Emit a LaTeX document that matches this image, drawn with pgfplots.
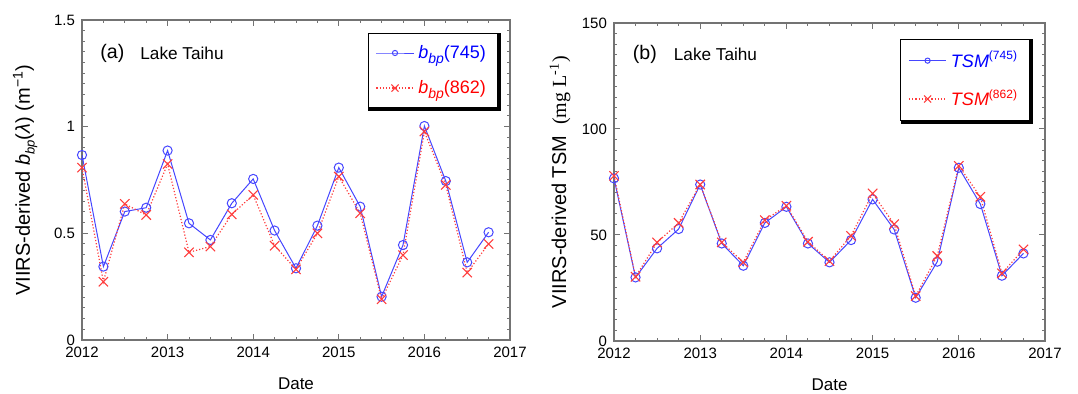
\documentclass[border=0pt]{standalone}
\usepackage{fontspec}
\setmainfont{Liberation Sans}
\newfontfamily\serif{Liberation Serif}
\usepackage{pgfplots}
\usepackage{pgfplotstable}
\pgfplotsset{compat=1.18}
\definecolor{lblue}{RGB}{70,70,255}
\definecolor{lred}{RGB}{255,60,60}

\pgfplotstableread{
x       a      b
2012.00 0.867 0.808
2012.25 0.344 0.273
2012.50 0.602 0.638
2012.75 0.620 0.586
2013.00 0.888 0.825
2013.25 0.547 0.411
2013.50 0.469 0.438
2013.75 0.641 0.589
2014.00 0.755 0.680
2014.25 0.513 0.442
2014.50 0.336 0.331
2014.75 0.536 0.500
2015.00 0.808 0.766
2015.25 0.625 0.594
2015.50 0.203 0.191
2015.75 0.445 0.398
2016.00 1.003 0.977
2016.25 0.745 0.727
2016.50 0.364 0.316
2016.75 0.505 0.450
}\bbp

\pgfplotstableread{
x       a     b
2012.00 76.7 77.9
2012.25 30.0 30.3
2012.50 43.7 46.5
2012.75 52.8 55.7
2013.00 73.8 73.8
2013.25 46.0 46.5
2013.50 35.5 37.1
2013.75 55.7 57.0
2014.00 63.3 63.8
2014.25 46.0 46.8
2014.50 37.1 37.7
2014.75 47.6 49.6
2015.00 66.8 69.6
2015.25 52.6 55.1
2015.50 20.4 21.2
2015.75 37.4 40.1
2016.00 81.7 82.6
2016.25 64.6 68.0
2016.50 30.8 31.9
2016.75 41.3 43.2
}\tsm

\pgfplotsset{
  mystyle/.style={
    scale only axis,
    xmin=2012, xmax=2017,
    xtick={2012,2013,2014,2015,2016,2017},
    minor x tick num=3,
    minor y tick num=9,
    tick align=inside,
    major tick length=3pt,
    minor tick length=1.6pt,
    axis line style={black!55, line width=0.6pt},
    every tick/.append style={black!55, line width=0.5pt},
    tick label style={font=\fontsize{7.5}{9}\selectfont},
    /pgf/number format/assume math mode=true,
    x tick label style={/pgf/number format/1000 sep={}},
    xlabel={Date},
    xlabel style={font=\fontsize{8.5}{10}\selectfont, at={(axis description cs:0.5,-0.138)}, anchor=center},
    ylabel style={font=\fontsize{8.5}{10}\selectfont},
    legend cell align=left,
    legend style={font=\fontsize{9}{11}\selectfont, draw=black, fill=white,
      at={(1,1)}, anchor=north east, row sep=5.5pt, inner sep=3.8pt},
    legend image code/.code={\draw[mark repeat=2,mark phase=2,##1] plot coordinates {(0pt,0pt)(9.3pt,0pt)(18.7pt,0pt)};},
  },
  bline/.style={lblue, line width=0.5pt, mark=o, mark size=2.3pt, mark options={solid, line width=0.5pt}},
  rline/.style={lred, line width=0.6pt, densely dotted, mark=x, mark size=3.3pt, mark options={solid, line width=0.55pt}},
}

\begin{document}
\begin{tikzpicture}
\useasboundingbox (0,0) rectangle (539pt,197pt);

\begin{axis}[mystyle,
  at={(41pt,27pt)}, anchor=south west,
  width=214pt, height=160pt,
  ymin=0, ymax=1.5, ytick={0,0.5,1,1.5},
  yticklabels={0,0.5,1,1.5},
  ylabel={VIIRS-derived \textit{b}\raisebox{-0.45ex}{\fontsize{6.5}{7}\selectfont\itshape bp}(\textit{λ}) (m\textsuperscript{−1})},
  every axis y label/.style={at={(axis description cs:-0.133,0.5)}, rotate=90, anchor=center},
  legend style={xshift=-6pt, yshift=-6.5pt, name=legA},
]
\addplot[bline, legend image post style={mark size=1.3pt}] table[x=x,y=a] {\bbp};
\addlegendentry{\textcolor{blue}{\textit{b}\raisebox{-0.55ex}{\fontsize{7}{8}\selectfont\itshape bp}(745)}}
\addplot[rline, legend image post style={mark size=2.5pt}] table[x=x,y=b] {\bbp};
\addlegendentry{\textcolor{red}{\textit{b}\raisebox{-0.55ex}{\fontsize{7}{8}\selectfont\itshape bp}(862)}}
\node[anchor=west, inner sep=0pt, font=\fontsize{9.8}{11}\selectfont] at (rel axis cs:0.042,0.897) {(a)};
\node[anchor=west, inner sep=0pt, font=\fontsize{8.6}{10}\selectfont] at (rel axis cs:0.1355,0.897) {Lake Taihu};
\end{axis}
\fill[black] ([xshift=0.2pt]legA.south west) rectangle ([xshift=1.6pt,yshift=-1.6pt]legA.south east);
\fill[black] ([yshift=-0.2pt]legA.north east) rectangle ([xshift=1.6pt,yshift=-1.6pt]legA.south east);

\begin{axis}[mystyle,
  at={(307pt,26.5pt)}, anchor=south west,
  width=215.5pt, height=159pt,
  ymin=0, ymax=150, ytick={0,50,100,150},
  ylabel={VIIRS-derived TSM\ \ {\serif (mg L\textsuperscript{-1})}},
  every axis y label/.style={at={(axis description cs:-0.125,0.5)}, rotate=90, anchor=center},
  legend style={xshift=-7.5pt, yshift=-8pt, name=legB},
]
\addplot[bline, legend image post style={mark size=1.3pt}] table[x=x,y=a] {\tsm};
\addlegendentry{\textcolor{blue}{\textit{TSM}\textsuperscript{(745)}}}
\addplot[rline, legend image post style={mark size=2.5pt}] table[x=x,y=b] {\tsm};
\addlegendentry{\textcolor{red}{\textit{TSM}\textsuperscript{(862)}}}
\node[anchor=west, inner sep=0pt, font=\fontsize{9.8}{11}\selectfont] at (rel axis cs:0.043,0.9025) {(b)};
\node[anchor=west, inner sep=0pt, font=\fontsize{8.6}{10}\selectfont] at (rel axis cs:0.138,0.9025) {Lake Taihu};
\end{axis}
\fill[black] ([xshift=0.2pt]legB.south west) rectangle ([xshift=1.6pt,yshift=-1.6pt]legB.south east);
\fill[black] ([yshift=-0.2pt]legB.north east) rectangle ([xshift=1.6pt,yshift=-1.6pt]legB.south east);
\end{tikzpicture}
\end{document}
